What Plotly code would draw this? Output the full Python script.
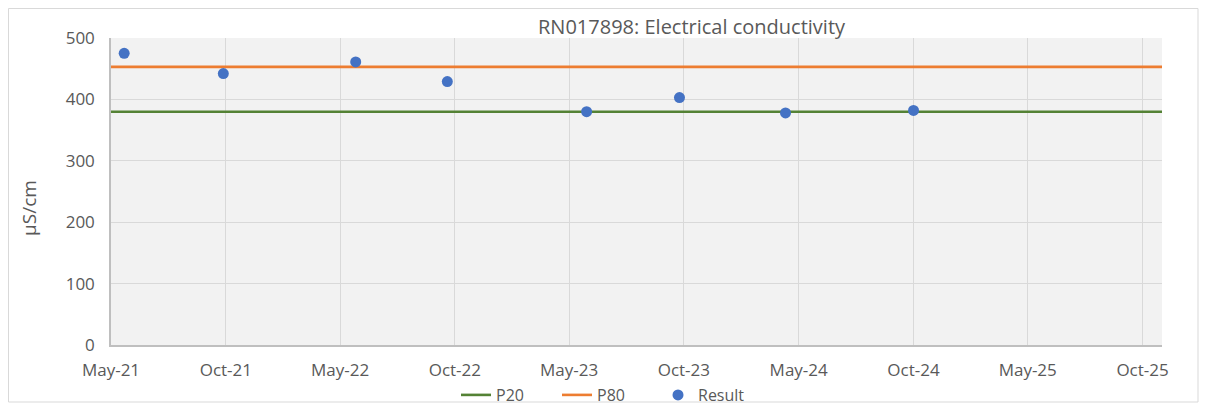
import plotly.graph_objects as go

# ---- data ----
result_dates = ["2021-05-22", "2021-10-27", "2022-05-26", "2022-10-19",
                "2023-05-29", "2023-10-24", "2024-04-10", "2024-10-31"]
result_values = [475, 442, 461, 429, 380, 403, 378, 382]

p20_value = 380
p80_value = 453
x_start = "2021-05-01"
x_end = "2025-12-01"
line_dates = [x_start, x_end]

tick_dates = ["2021-05-01", "2021-10-31", "2022-05-01", "2022-10-31",
              "2023-05-01", "2023-10-31", "2024-05-01", "2024-10-31",
              "2025-05-01", "2025-10-31"]
tick_labels = ["May-21", "Oct-21", "May-22", "Oct-22", "May-23",
               "Oct-23", "May-24", "Oct-24", "May-25", "Oct-25"]

title_text = "RN017898: Electrical conductivity"
y_title = "µS/cm"

FONT = "Open Sans"
TXT = "#595959"

# page has an 8px body margin; figure is laid out in div coordinates
W, H = 1200, 397
L, T, R, B = 103, 30, 46, 60
pw = W - L - R
ph = H - T - B
plot_bottom = H - B


def px_x(x):
    return (x - L) / pw


def px_y(y):
    return (plot_bottom - y) / ph


fig = go.Figure()
fig.add_trace(go.Scatter(x=line_dates, y=[p20_value] * len(line_dates), mode="lines",
                         name="P20", line=dict(color="#548235", width=2.6)))
fig.add_trace(go.Scatter(x=line_dates, y=[p80_value] * len(line_dates), mode="lines",
                         name="P80", line=dict(color="#ED7D31", width=2.6)))
fig.add_trace(go.Scatter(x=result_dates, y=result_values, mode="markers",
                         name="Result", marker=dict(color="#4472C4", size=11)))

fig.update_layout(
    width=W, height=H, autosize=False,
    margin=dict(l=L, r=R, t=T, b=B, autoexpand=False),
    paper_bgcolor="white", plot_bgcolor="#F2F2F2",
    font=dict(family=FONT, color=TXT, size=16),
    showlegend=True,
    legend=dict(orientation="h", x=px_x(448), xanchor="left", xref="paper",
                y=px_y(387), yanchor="middle", yref="paper",
                font=dict(size=16, color=TXT), entrywidth=56,
                bgcolor="rgba(0,0,0,0)", traceorder="normal"),
    annotations=[
        dict(text=title_text, x=px_x(684), y=px_y(19), xref="paper", yref="paper",
             showarrow=False, xanchor="center", yanchor="middle",
             font=dict(size=20, color=TXT, family=FONT)),
        dict(text=y_title, x=px_x(21), y=px_y(200), xref="paper", yref="paper",
             showarrow=False, textangle=-90,
             xanchor="center", yanchor="middle",
             font=dict(size=19, color=TXT, family=FONT)),
    ],
    shapes=[dict(type="rect", xref="paper", yref="paper",
                 x0=px_x(0.5), x1=px_x(1190), y0=px_y(394), y1=px_y(0.5),
                 line=dict(color="#D9D9D9", width=1), layer="below")],
)

fig.update_xaxes(type="date", range=[x_start, x_end], automargin=False,
                 tickmode="array", tickvals=tick_dates, ticktext=tick_labels,
                 showgrid=True, gridcolor="#D9D9D9", gridwidth=1,
                 showline=True, linecolor="#BFBFBF", linewidth=1.5,
                 ticks="outside", ticklen=9, tickcolor="rgba(0,0,0,0)",
                 tickfont=dict(size=17, color=TXT, family=FONT), zeroline=False)
fig.update_yaxes(range=[0, 500], dtick=100, tick0=0, automargin=False,
                 showgrid=True, gridcolor="#D9D9D9", gridwidth=1,
                 showline=True, linecolor="#BFBFBF", linewidth=1.5,
                 ticks="outside", ticklen=11, tickcolor="rgba(0,0,0,0)",
                 tickfont=dict(size=17, color=TXT, family=FONT), zeroline=False)

fig.write_html("out.html")
